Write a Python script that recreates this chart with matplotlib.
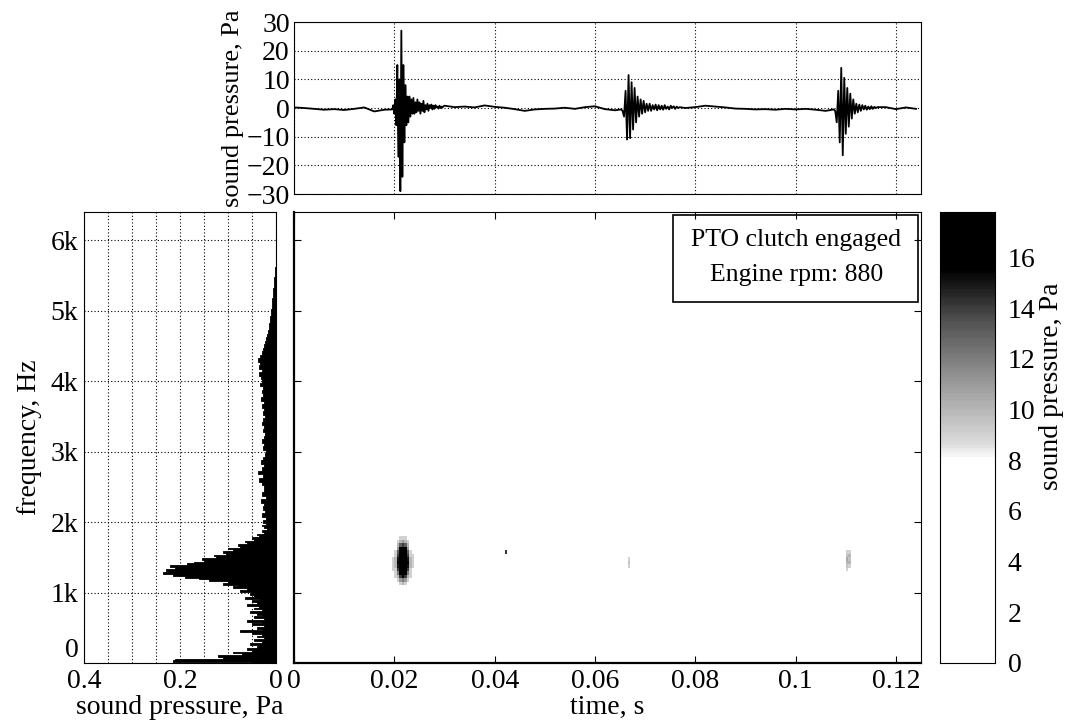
import numpy as np
import matplotlib
matplotlib.use("Agg")
import matplotlib.pyplot as plt
from matplotlib.colors import LinearSegmentedColormap
from matplotlib.patches import Rectangle

plt.rcParams['font.family'] = ['Liberation Serif', 'DejaVu Serif']
plt.rcParams['font.size'] = 20

# ---- waveform (top panel), Pa ----
base_t = np.arange(0, 0.1241, 0.002)
base_p = [0.2, 0.0, -0.3, -0.6, -0.4, -0.7, -0.3, 0.2, -1.2, -0.6,
          0.5, 1.0, -0.5, 0.8, 0.4, 0.8, 0.3, 0.5, 0.2, 0.9,
          0.4, 0.1, -0.4, -1.0, -0.5, -0.3, -0.2, 0.1, -0.3, 0.3,
          0.6, -0.4, -0.8, 0.0, 0.0, 0.0, 0.0, 0.0, 0.0, 0.0,
          0.3, 0.8, 0.5, 0.2, -0.2, -0.3, -0.5, -0.4, -0.6, -0.3,
          -0.5, -0.3, -0.6, -1.0, 0.0, 0.0, 0.0, 0.0, 0.0, 0.3,
          -0.4, 0.2, -0.3]

burst1_start, burst1_dt = 0.0196, 0.0002
burst1_p = [-0.5, 1, -2, 3, -6, 15, -17, 10, -29, 27, -24, 15, -12, 8, -6, 4,
            -5, 4, -3, 3, -2, 3.5, -2, 2, -1.5, 3, -1, 2, -2, 1.5, -1, 2.5,
            -1.5, 1, -0.5, 1.5, -1, 1, 0, 1.2, -0.5, 0.8, -0.3, 1, 0.2, 0.5,
            -0.2, 0.8, 0, 0.5, 0.2, 0.6]
burst2_start, burst2_dt = 0.0652, 0.0003
burst2_p = [-0.5, -1, -3, 6, -11, 11.5, -10.5, 9, -7.5, 7, -5, 4, -3, 3, -2,
            2.5, -1.5, 1.5, -1, 1.5, -1, 1, -0.5, 1.2, -0.8, 1, -0.5, 0.8,
            -0.6, 1, -0.3, 0.5, -0.5, 0.8, 0, 0.6, -0.3, 0.5, 0, 0.3]
burst3_start, burst3_dt = 0.1076, 0.0003
burst3_p = [-0.5, -1, -5, 6, -12, 14, -16.5, 10.5, -9, 7, -6.5, 5, -3.7, 3,
            -2, 1.5, -1.5, 1.2, -1, 1, -0.5, 0.8, -0.6, 0.5, -0.4, 0.6, -0.3,
            0.4, 0, 0.3]

# ---- spectrum (left panel), 25 Hz steps to 2 kHz then 50 Hz ----
spec_f = np.concatenate([np.arange(0, 2001, 25), np.arange(2050, 5701, 50)])
spec_a = [0.05, 0.215, 0.21, 0.11, 0.12, 0.07, 0.09, 0.05, 0.06, 0.04,
          0.035, 0.055, 0.03, 0.045, 0.025, 0.04, 0.03, 0.05, 0.075, 0.03,
          0.04, 0.025, 0.05, 0.03, 0.06, 0.025, 0.045, 0.03, 0.04, 0.055,
          0.03, 0.045, 0.035, 0.06, 0.04, 0.05, 0.035, 0.065, 0.045, 0.055,
          0.05, 0.075, 0.06, 0.09, 0.08, 0.11, 0.1, 0.14, 0.16, 0.19,
          0.215, 0.235, 0.225, 0.23, 0.21, 0.22, 0.185, 0.17, 0.15, 0.155,
          0.125, 0.13, 0.105, 0.11, 0.09, 0.1, 0.075, 0.08, 0.06, 0.065,
          0.045, 0.05, 0.035, 0.04, 0.025, 0.03, 0.018, 0.025, 0.03, 0.02,
          0.028,
          0.02, 0.03, 0.022, 0.028, 0.025, 0.032, 0.02, 0.03, 0.026, 0.024,
          0.03, 0.035, 0.028, 0.038, 0.03, 0.025, 0.032, 0.027, 0.022, 0.02,
          0.028, 0.024, 0.03, 0.026, 0.022, 0.028, 0.025, 0.03, 0.027, 0.023,
          0.028, 0.025, 0.03, 0.026, 0.032, 0.028, 0.03, 0.027, 0.033, 0.029,
          0.032, 0.035, 0.03, 0.036, 0.033, 0.038, 0.034, 0.03, 0.028, 0.025,
          0.022, 0.02, 0.018, 0.017, 0.015, 0.014, 0.013, 0.012, 0.011, 0.01,
          0.009, 0.008, 0.008, 0.007, 0.006, 0.006, 0.005, 0.004, 0.004, 0.003,
          0.002, 0.002, 0.001, 0.0]

# ---- spectrogram spots (cells of 0.5 ms x 50 Hz), Pa ----
blob1_t0, blob1_f0 = 0.0195, 1100
blob1 = [[0, 0, 0, 9, 10, 9, 0, 0, 0],
         [0, 0, 9, 11, 12, 11, 9, 0, 0],
         [0, 9, 10, 14, 16, 14, 10, 9, 0],
         [0, 9, 12, 17, 18, 17, 12, 9, 0],
         [9, 9, 14, 18, 18, 18, 14, 9, 0],
         [9, 10, 15, 18, 18, 18, 15, 10, 9],
         [9, 10, 16, 18, 18, 18, 16, 10, 9],
         [9, 10, 15, 18, 18, 18, 15, 10, 9],
         [0, 9, 14, 18, 18, 18, 14, 9, 9],
         [0, 9, 13, 17, 18, 17, 13, 9, 0],
         [0, 0, 11, 16, 17, 16, 11, 0, 0],
         [0, 0, 10, 13, 14, 13, 10, 0, 0],
         [0, 0, 9, 10, 11, 10, 9, 0, 0],
         [0, 0, 0, 9, 9, 9, 0, 0, 0]]
blob2_t0, blob2_f0 = 0.0665, 1350
blob2 = [[9], [9.5], [9]]
blob3_t0, blob3_f0 = 0.1100, 1300
blob3 = [[9, 0], [9.5, 9], [10, 10], [10.5, 9.5], [9.5, 10], [9, 9]]
dot_t0, dot_f0 = 0.0420, 1550
dot = [[14]]

t_ticks = [0, 0.02, 0.04, 0.06, 0.08, 0.1, 0.12]
t_labels = ['0', '0.02', '0.04', '0.06', '0.08', '0.1', '0.12']
f_ticks = [0, 1000, 2000, 3000, 4000, 5000, 6000]
f_labels = ['0', '1k', '2k', '3k', '4k', '5k', '6k']
cb_ticks = [0, 2, 4, 6, 8, 10, 12, 14, 16]

# assemble waveform
t_parts, p_parts = [], []
windows = []
for st, dt, vals in [(burst1_start, burst1_dt, burst1_p),
                     (burst2_start, burst2_dt, burst2_p),
                     (burst3_start, burst3_dt, burst3_p)]:
    tt = st + dt * np.arange(len(vals))
    t_parts.append(tt)
    p_parts.append(np.array(vals, dtype=float))
    windows.append((tt[0], tt[-1]))
bt = np.array(base_t)
bp = np.array(base_p)
keep = np.ones(len(bt), bool)
for a, b in windows:
    keep &= ~((bt >= a) & (bt <= b))
t_parts.append(bt[keep])
p_parts.append(bp[keep])
wave_t = np.concatenate(t_parts)
wave_p = np.concatenate(p_parts)
order = np.argsort(wave_t)
wave_t, wave_p = wave_t[order], wave_p[order]

# assemble spectrogram grid
dt_cell, df_cell = 0.0005, 50
t_edges = np.arange(0, 0.1251, dt_cell)
f_edges = np.arange(0, 6401, df_cell)
grid = np.zeros((len(f_edges) - 1, len(t_edges) - 1))
for t0, f0, blk in [(blob1_t0, blob1_f0, blob1), (blob2_t0, blob2_f0, blob2),
                    (blob3_t0, blob3_f0, blob3), (dot_t0, dot_f0, dot)]:
    blk = np.array(blk, dtype=float)
    i0 = int(round(f0 / df_cell))
    j0 = int(round(t0 / dt_cell))
    grid[i0:i0 + blk.shape[0], j0:j0 + blk.shape[1]] = blk

vmax = 17.8
cmap = LinearSegmentedColormap.from_list('pressure', [
    (0.0, 'white'), (8 / vmax, 'white'), (8.6 / vmax, '#dcdcdc'),
    (11 / vmax, '#9a9a9a'), (13.5 / vmax, '#505050'), (15.5 / vmax, 'black'),
    (1.0, 'black')])

fig = plt.figure(figsize=(10.67, 7.22), dpi=100)
W, H = 1067, 722


def px_axes(x0, y0, x1, y1):
    return fig.add_axes([x0 / W, 1 - y1 / H, (x1 - x0) / W, (y1 - y0) / H])


ax_top = px_axes(294, 22, 921, 194)
ax_main = px_axes(294, 212, 921, 663)
ax_left = px_axes(84, 212, 276, 663)
cax = px_axes(940, 212, 995, 663)

grid_kw = dict(color='black', linestyle=(0, (1, 2)), linewidth=0.8)

# top waveform
ax_top.plot(wave_t, wave_p, color='black', linewidth=1.3)
ax_top.set_xlim(0, 0.125)
ax_top.set_ylim(-30, 30)
ax_top.set_yticks(np.arange(-30, 31, 10))
ax_top.set_xticks(t_ticks)
ax_top.set_xticklabels([])
ax_top.tick_params(direction='in', length=0, pad=3)
ax_top.grid(True, **grid_kw)
ax_top.set_ylabel('sound pressure, Pa', labelpad=2, fontsize=19)

# spectrogram
ax_main.pcolormesh(t_edges, f_edges, grid, cmap=cmap, vmin=0, vmax=vmax,
                   shading='flat')
ax_main.set_xlim(0, 0.125)
ax_main.set_ylim(0, 6400)
ax_main.set_xticks(t_ticks)
ax_main.set_xticklabels(t_labels)
ax_main.set_yticks(f_ticks[1:])
ax_main.set_yticklabels([])
ax_main.tick_params(direction='in', right=True, top=True, length=5, pad=4)
ax_main.set_xlabel('time, s', labelpad=1)
for s in ['left', 'bottom']:
    ax_main.spines[s].set_linewidth(1.6)
ax_main.add_patch(Rectangle((0.605, 0.80), 0.391, 0.193,
                            transform=ax_main.transAxes, fill=False,
                            edgecolor='black', linewidth=1.2, zorder=5))
ax_main.text(0.801, 0.938, 'PTO clutch engaged', transform=ax_main.transAxes,
             ha='center', va='center', fontsize=18.5)
ax_main.text(0.801, 0.860, 'Engine rpm: 880', transform=ax_main.transAxes,
             ha='center', va='center', fontsize=18.5)

# spectrum
ax_left.fill_betweenx(spec_f, 0, spec_a, color='black', linewidth=0.6,
                      step='mid')
ax_left.set_xlim(0.4, 0)
ax_left.set_ylim(0, 6400)
ax_left.set_xticks([0.4, 0.2, 0])
ax_left.set_xticklabels(['0.4', '0.2', '0'])
ax_left.set_xticks(np.arange(0.05, 0.4, 0.05), minor=True)
ax_left.set_yticks(f_ticks)
ylbls = ax_left.set_yticklabels(f_labels)
ylbls[0].set_verticalalignment('bottom')
ax_left.tick_params(which='both', direction='in', length=0, pad=4)
ax_left.grid(True, which='both', **grid_kw)
ax_left.set_axisbelow(True)
ax_left.set_xlabel('sound pressure, Pa', labelpad=1)
ax_left.set_ylabel('frequency, Hz', labelpad=6)

# colorbar
cb_vals = np.linspace(0, vmax, 200)
cax.pcolormesh([0, 1], cb_vals, cb_vals[:-1, None], cmap=cmap, vmin=0,
               vmax=vmax, shading='flat')
cax.set_xlim(0, 1)
cax.set_ylim(0, vmax)
cax.set_xticks([])
cax.yaxis.tick_right()
cax.set_yticks(cb_ticks)
cax.tick_params(direction='in', length=0, pad=9)
cax.set_ylabel('sound pressure, Pa', fontsize=20)
cax.yaxis.set_label_position('right')
cax.yaxis.set_label_coords(1.80, 0.614)

fig.savefig('out.png', dpi=100)
